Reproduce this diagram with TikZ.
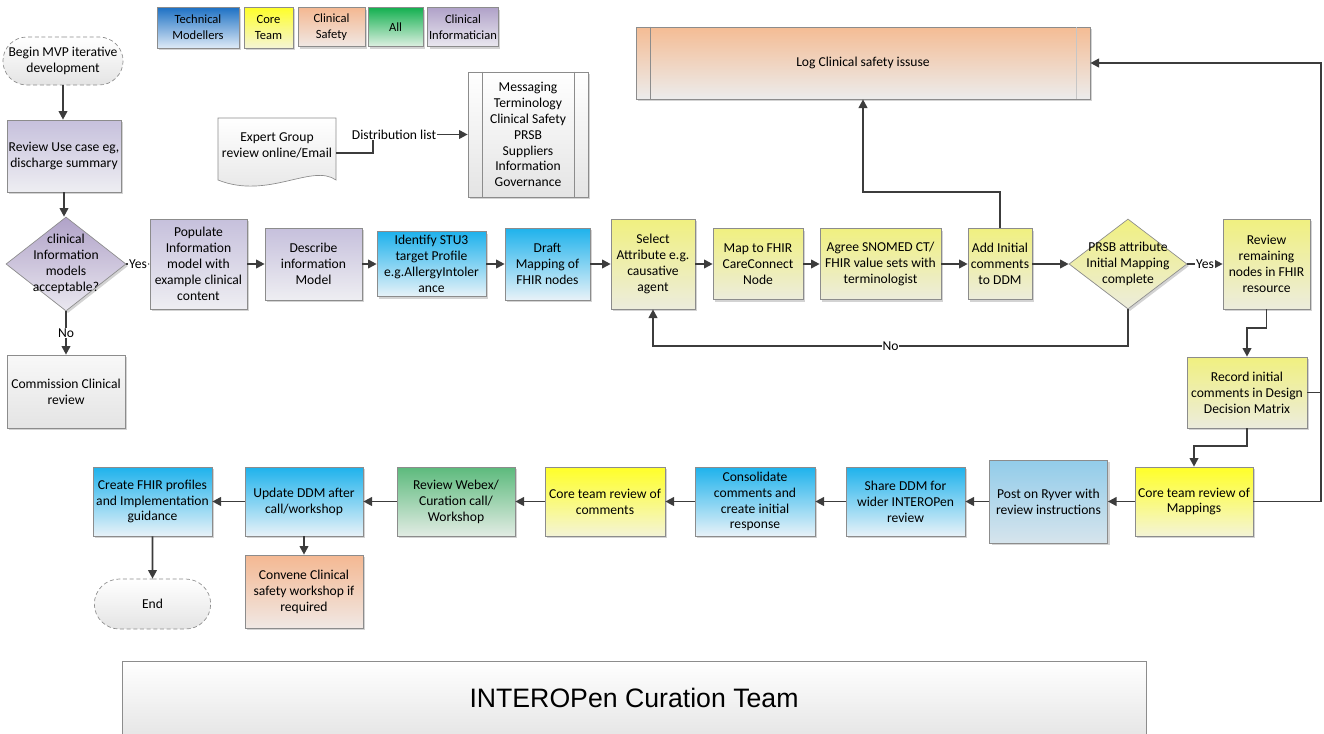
\documentclass[tikz,border=0pt]{standalone}
\usepackage{fontspec}
\setmainfont{Carlito}
\newfontfamily\titlefont{Liberation Sans}
\usetikzlibrary{shapes.geometric,shapes.misc,arrows.meta,shadows}
\definecolor{lineC}{RGB}{60,60,60}
\definecolor{edgeC}{RGB}{140,140,140}
\definecolor{techT}{RGB}{28,112,196}
\definecolor{techB}{RGB}{222,234,246}
\definecolor{fhirT}{RGB}{30,178,236}
\definecolor{fhirB}{RGB}{232,242,248}
\definecolor{coreT}{RGB}{255,255,40}
\definecolor{coreB}{RGB}{244,244,214}
\definecolor{attrT}{RGB}{240,240,128}
\definecolor{attrB}{RGB}{236,236,220}
\definecolor{safeT}{RGB}{244,184,146}
\definecolor{safeB}{RGB}{240,232,228}
\definecolor{allT}{RGB}{20,176,80}
\definecolor{allB}{RGB}{222,240,226}
\definecolor{webT}{RGB}{92,186,124}
\definecolor{webB}{RGB}{226,236,228}
\definecolor{infoT}{RGB}{176,162,200}
\definecolor{infoB}{RGB}{234,232,240}
\definecolor{lavT}{RGB}{198,192,220}
\definecolor{lavB}{RGB}{238,238,242}
\definecolor{greyT}{RGB}{248,248,248}
\definecolor{greyB}{RGB}{228,228,228}
\definecolor{ryvT}{RGB}{146,204,234}
\definecolor{ryvB}{RGB}{214,228,236}
\definecolor{logT}{RGB}{244,188,148}
\definecolor{logB}{RGB}{236,236,236}
\tikzset{sz/.style 2 args={minimum width=#1*0.75pt, minimum height=#2*0.75pt}}
\begin{document}
\begin{tikzpicture}[
  x=0.75pt, y=-0.75pt,
  every node/.style={font=\fontsize{10.2}{11.9}\selectfont, align=center, inner sep=1pt},
  box/.style={rectangle, draw=edgeC, line width=0.5pt,
    drop shadow={shadow xshift=1.5pt, shadow yshift=-1.5pt, opacity=0.35}},
  dia/.style={diamond, draw=edgeC, line width=0.5pt, inner sep=0pt,
    drop shadow={shadow xshift=1.5pt, shadow yshift=-1.5pt, opacity=0.35}},
  term/.style={rounded rectangle, draw=edgeC, densely dashed, line width=0.5pt, top color=white, bottom color=greyB},
  leg/.style={font=\fontsize{9.4}{12}\selectfont},
  legtech/.style={box, top color=techT, bottom color=techB},
  fhir/.style={box, top color=fhirT, bottom color=fhirB},
  core/.style={box, top color=coreT, bottom color=coreB},
  attr/.style={box, top color=attrT, bottom color=attrB},
  safe/.style={box, top color=safeT, bottom color=safeB},
  allgrp/.style={box, top color=allT, bottom color=allB},
  webex/.style={box, top color=webT, bottom color=webB},
  info/.style={box, top color=infoT, bottom color=infoB},
  lav/.style={box, top color=lavT, bottom color=lavB},
  greybox/.style={box, top color=greyT, bottom color=greyB},
  ryver/.style={box, top color=ryvT, bottom color=ryvB},
  arr/.style={draw=lineC, line width=1.4pt, -{Triangle[length=6.5pt, width=6.5pt]}},
  link/.style={draw=lineC, line width=1.4pt},
  lbl/.style={fill=white, inner sep=0.5pt}
]
\useasboundingbox (0,0) rectangle (1324,733);

\node[leg, legtech, sz={82}{41}] (lgTech) at (198,27.5) {Technical\\Modellers};
\node[leg, core, sz={49}{41}] (lgCore) at (268.5,27.5) {Core\\Team};
\node[leg, safe, sz={67}{39}] (lgSafe) at (331.5,27) {Clinical\\Safety};
\node[leg, allgrp, sz={55}{39}] (lgAll) at (395.5,27) {All};
\node[leg, info, sz={70}{39}] (lgInfo) at (463,27) {Clinical\\Informatician};

\node[term, sz={106}{48}] (begin) at (63,61) {Begin MVP iterative\\development};
\node[lav, sz={114}{72}] (usecase) at (64,156) {Review Use case eg,\\discharge summary};
\node[dia, top color=infoT, bottom color=infoB, sz={120}{94},
  label=center:{clinical\\Information\\models\\acceptable?}] (accept) at (66,264) {};
\node[greybox, sz={118}{73}] (commission) at (66,391.5) {Commission Clinical\\review};

\draw[edgeC, line width=0.5pt, top color=white, bottom color=greyB]
  (218,118) -- (336,118) -- (336,180) .. controls (312,163) and (268,200) .. (218,180) -- cycle;
\node[sz={118}{40}] (expert) at (277,145) {Expert Group\\review online/Email};
\node[box, top color=white, bottom color=greyB, sz={120}{125}] (msg) at (528,134.5)
  {Messaging\\Terminology\\Clinical Safety\\PRSB\\Suppliers\\Information\\Governance};
\draw[edgeC] ([xshift=11.25pt]msg.north west) -- ([xshift=11.25pt]msg.south west);
\draw[edgeC] ([xshift=-10.5pt]msg.north east) -- ([xshift=-10.5pt]msg.south east);

\node[box, top color=logT, bottom color=logB, sz={454}{72}] (log) at (863,63) {Log Clinical safety issuse};
\draw[edgeC] ([xshift=11.25pt]log.north west) -- ([xshift=11.25pt]log.south west);
\draw[edgeC!50] ([xshift=-10.5pt]log.north east) -- ([xshift=-10.5pt]log.south east);

\node[lav, sz={97}{90}] (populate) at (198.5,264) {Populate\\Information\\model with\\example clinical\\content};
\node[lav, sz={97}{72}] (describe) at (313.5,264) {Describe\\information\\Model};
\node[fhir, sz={109}{65}] (identify) at (431.5,264) {Identify STU3\\target Profile\\e.g.AllergyIntoler\\ance};
\node[fhir, sz={85}{72}] (draft) at (547.5,264) {Draft\\Mapping of\\FHIR nodes};
\node[attr, sz={84}{90}] (select) at (653,264) {Select\\Attribute e.g.\\causative\\agent};
\node[attr, sz={90}{71}] (mapfhir) at (758,264) {Map to FHIR\\CareConnect\\Node};
\node[attr, sz={121}{71}] (agree) at (880.5,264) {Agree SNOMED CT/\\FHIR value sets with\\terminologist};
\node[attr, sz={64}{71}] (addinit) at (1000,264) {Add Initial\\comments\\to DDM};
\node[dia, top color=attrT, bottom color=attrB, sz={118}{90},
  label=center:{PRSB attribute\\Initial Mapping\\complete}] (complete) at (1128,264) {};
\node[attr, sz={87}{90}] (remaining) at (1266.5,264) {Review\\remaining\\nodes in FHIR\\resource};
\node[attr, sz={120}{71}] (record) at (1247,392.5) {Record initial\\comments in Design\\Decision Matrix};

\node[core, sz={118}{69}] (coremap) at (1194,501.5) {Core team review of\\Mappings};
\node[ryver, sz={118}{83}] (post) at (1048.5,501.5) {Post on Ryver with\\review instructions};
\node[fhir, sz={119}{69}] (share) at (905.5,501.5) {Share DDM for\\wider INTEROPen\\review};
\node[fhir, sz={120}{69}] (consol) at (755,501.5) {Consolidate\\comments and\\create initial\\response};
\node[core, sz={120}{69}] (corecom) at (605,501.5) {Core team review of\\comments};
\node[webex, sz={118}{69}] (webexcall) at (456,501.5) {Review Webex/\\Curation call/\\Workshop};
\node[fhir, sz={118}{69}] (update) at (304,501.5) {Update DDM after\\call/workshop};
\node[fhir, sz={119}{69}] (create) at (152.5,501.5) {Create FHIR profiles\\and Implementation\\guidance};
\node[safe, sz={118}{73}] (convene) at (304,591.5) {Convene Clinical\\safety workshop if\\required};
\node[term, sz={119}{50}] (finish) at (152.5,604) {End};

\node[rectangle, draw=edgeC, top color=white, bottom color=greyB, sz={1024}{80},
  label={[font=\titlefont\fontsize{20}{24}\selectfont, yshift=2.25pt]center:INTEROPen Curation Team}] (team) at (634,701) {};

\draw[arr] (begin.south) -- (begin.south |- usecase.north);
\draw[arr] (usecase.south) -- (usecase.south |- accept.north);
\draw[arr] (accept) -- node[lbl]{Yes} (populate);
\draw[arr] (accept) -- node[lbl]{No} (commission);
\draw[arr] ([yshift=-6pt]expert.east) -- ++(37,0) |- node[lbl, pos=0.61]{Distribution list} (msg.west);
\draw[arr] (populate) -- (describe);
\draw[arr] (describe) -- (identify);
\draw[arr] (identify) -- (draft);
\draw[arr] (draft) -- (select);
\draw[arr] (select) -- (mapfhir);
\draw[arr] (mapfhir) -- (agree);
\draw[arr] (agree) -- (addinit);
\draw[arr] (addinit) -- (complete);
\draw[arr] (complete) -- node[lbl]{Yes} (remaining);
\draw[arr] (complete.south) -- ++(0,37) -| node[lbl, pos=0.25]{No} (select.south);
\draw[arr] (addinit.north) -- ++(0,-36) -| (log.south);
\draw[arr] (remaining.south) -- ++(0,19) -| (record.north);
\draw[arr] (record.south) -- ++(0,18) -| (coremap.north);
\coordinate (rail) at (1321,63);
\draw[arr] (coremap.east) -| (rail) -- (log.east);
\draw[link] (record.east) -- (record.east -| rail);
\draw[arr] (coremap) -- (post);
\draw[arr] (post) -- (share);
\draw[arr] (share) -- (consol);
\draw[arr] (consol) -- (corecom);
\draw[arr] (corecom) -- (webexcall);
\draw[arr] (webexcall) -- (update);
\draw[arr] (update) -- (create);
\draw[arr] (update) -- (convene);
\draw[arr] (create) -- (finish);
\end{tikzpicture}
\end{document}
